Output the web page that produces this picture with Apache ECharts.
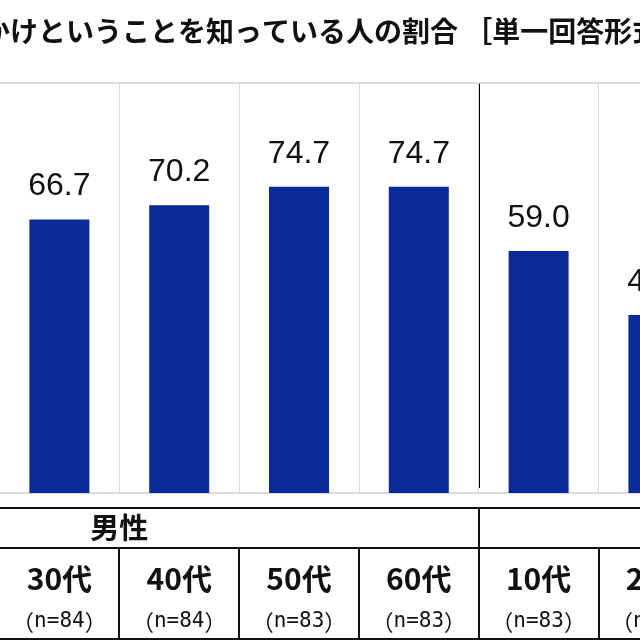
<!DOCTYPE html>
<html>
<head>
    <meta charset="utf-8">
    <title>認知率</title>
    <style>
        html, body { margin: 0; padding: 0; background: #fff; }
        #main { width: 640px; height: 640px; }
    </style>
</head>
<body>
<div id="main"></div>
<script src="https://cdn.jsdelivr.net/npm/echarts@6/dist/echarts.min.js"></script>
<script>
    // 表示されている列（左端は男性30代、右端は女性20代で途中まで）
    var categories = ['30代', '40代', '50代', '60代', '10代', '20代'];
    var sampleSizes = ['84', '84', '83', '83', '83', '83'];
    var rates = [66.7, 70.2, 74.7, 74.7, 59.0, 43.4];
    var groupLabel = '男性';

    var gridLeft = -0.5;
    var colW = 119.8;
    var gridWidth = colW * categories.length;
    var plotTop = 83, plotBottom = 493;
    var jp = '"Noto Sans CJK JP", sans-serif';

    function colX(i) { return gridLeft + colW * i; }

    var chart = echarts.init(document.getElementById('main'));

    // 表の罫線
    var lines = [];
    function hline(y, w) {
        lines.push({ type: 'line', shape: { x1: 0, y1: y, x2: 640, y2: y },
            style: { stroke: '#111', lineWidth: w }, silent: true });
    }
    function vline(x, y1, y2, w, c) {
        lines.push({ type: 'line', shape: { x1: x, y1: y1, x2: x, y2: y2 },
            style: { stroke: c || '#111', lineWidth: w }, silent: true });
    }
    hline(508, 2);
    hline(548, 2);
    hline(639, 2);
    for (var i = 1; i < categories.length; i++) {
        vline(Math.round(colX(i)), 548, 640, 2);
    }
    vline(Math.round(colX(4)), 508, 548, 2);
    // 男女の区切り線
    vline(Math.round(colX(4)), plotTop, 488, 2, '#000');
    lines.push({
        type: 'text', left: colX(1) - 29, top: 513,
        style: { text: groupLabel, font: 'bold 29px ' + jp, fill: '#111' }
    });

    option = {
        backgroundColor: '#fff',
        animation: false,
        title: {
            text: 'かけということを知っている人の割合 ［単一回答形式］',
            left: -23,
            top: 12,
            textStyle: { fontFamily: jp, fontWeight: 'bold', fontSize: 28, color: '#111' }
        },
        grid: {
            left: gridLeft,
            width: gridWidth,
            top: plotTop,
            height: plotBottom - plotTop,
            outerBoundsMode: 'none'
        },
        xAxis: {
            type: 'category',
            data: categories,
            axisLine: { show: false },
            axisTick: { show: false },
            splitLine: { show: true, lineStyle: { color: '#d9d9d9', width: 1 } },
            axisLabel: {
                interval: 0,
                margin: 66,
                formatter: function (v, idx) {
                    return '{c|' + v + '}\n{p|（}{m|n=' + sampleSizes[idx] + '}{p|）}';
                },
                rich: {
                    c: { fontFamily: jp, fontWeight: 'bold', fontSize: 30, lineHeight: 40, color: '#111' },
                    p: { fontFamily: jp, fontSize: 22, lineHeight: 46, color: '#111' },
                    m: { fontFamily: '"DejaVu Sans Mono", monospace', fontSize: 21, lineHeight: 46, color: '#111' }
                }
            }
        },
        yAxis: {
            type: 'value',
            min: 0,
            max: 100,
            interval: 100,
            axisLabel: { show: false },
            axisLine: { show: false },
            axisTick: { show: false },
            splitLine: { lineStyle: { color: '#cfcfcf', width: 1.5 } }
        },
        series: [{
            type: 'bar',
            data: rates,
            barWidth: 60,
            itemStyle: { color: '#0a2a9a' },
            label: {
                show: true,
                position: 'top',
                distance: 17,
                formatter: function (p) { return p.value.toFixed(1); },
                fontFamily: '"Liberation Sans", Arial, sans-serif',
                fontSize: 32,
                color: '#111'
            }
        }],
        graphic: lines
    };

    chart.setOption(option);
</script>
</body>
</html>
